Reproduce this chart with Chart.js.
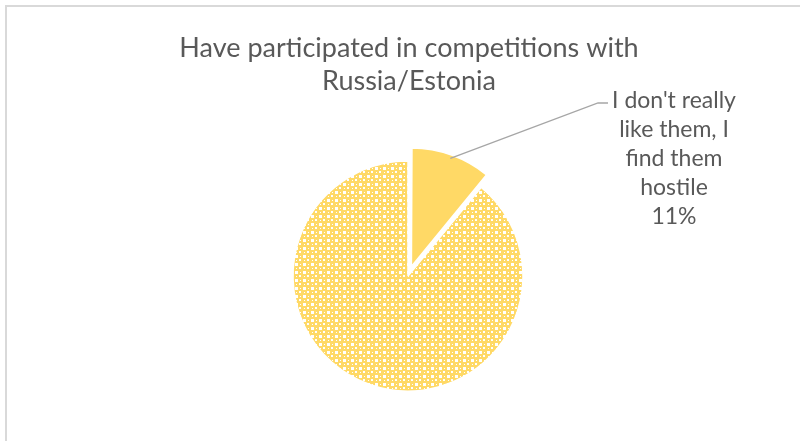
<!DOCTYPE html>
<html>
<head>
<meta charset="utf-8">
<script src="https://cdn.jsdelivr.net/npm/chart.js@4"></script>
<style>
  html, body { margin: 0; padding: 0; background: #fff; }
  #wrap { position: relative; width: 800px; height: 441px; overflow: hidden; }
  #frame { position: absolute; left: 5px; top: 5px; width: 900px; height: 600px; border: 2px solid #d9d9d9; box-sizing: border-box; }
  #chart { position: absolute; left: 0; top: 0; }
</style>
</head>
<body>
<div id="wrap">
  <div id="frame"></div>
  <canvas id="chart" width="800" height="441"></canvas>
</div>
<script>
const titleLines = ['Have participated in competitions with', 'Russia/Estonia'];
const categories = ["I don't really like them, I find them hostile", 'Other'];
const labelLines = ["I don't really", 'like them, I', 'find them', 'hostile'];
const values = [11, 89];

const FONT = 'Lato, "Open Sans", sans-serif';
const TEXT = '#595959';
const GOLD = '#FFD966';

// 8px tile: gold lattice with white square holes, used for the big slice
function makePattern() {
    const c = document.createElement('canvas');
    c.width = 8; c.height = 8;
    const g = c.getContext('2d');
    g.fillStyle = GOLD;
    g.fillRect(0, 0, 8, 8);
    g.fillStyle = '#ffffff';
    g.fillRect(0, 0, 2, 2);
    g.fillRect(7, 0, 1, 2);
    g.fillRect(0, 7, 2, 1);
    g.fillRect(7, 7, 1, 1);
    g.fillRect(3, 3, 2, 2);
    g.fillRect(4, 0, 1, 1);
    g.fillRect(0, 4, 1, 1);
    return g.createPattern(c, 'repeat');
}

const drawText = {
    id: 'drawText',
    afterDraw(chart) {
        const ctx = chart.ctx;
        ctx.save();
        ctx.fillStyle = TEXT;
        ctx.textAlign = 'center';
        ctx.textBaseline = 'middle';
        ctx.font = '27px ' + FONT;
        titleLines.forEach((t, i) => ctx.fillText(t, 409, 48 + i * 33));

        // leader line from the middle of the first slice's rim
        const arc = chart.getDatasetMeta(0).data[0];
        const mid = (arc.startAngle + arc.endAngle) / 2;
        const shift = 40 / 4;
        const r = arc.outerRadius;
        const sx = arc.x + Math.cos(mid) * (r + shift);
        const sy = arc.y + Math.sin(mid) * (r + shift);
        ctx.strokeStyle = '#a6a6a6';
        ctx.lineWidth = 1.3;
        ctx.beginPath();
        ctx.moveTo(sx, sy);
        ctx.lineTo(598, 103);
        ctx.lineTo(608, 103);
        ctx.stroke();

        ctx.font = '23px ' + FONT;
        const lines = labelLines.concat([values[0] + '%']);
        lines.forEach((t, i) => ctx.fillText(t, 674, 101 + i * 29));
        ctx.restore();
    }
};

new Chart(document.getElementById('chart'), {
    type: 'pie',
    data: {
        labels: categories,
        datasets: [{
            data: values,
            backgroundColor: [GOLD, makePattern()],
            borderColor: '#ffffff',
            borderWidth: 1.5,
            offset: [40, 0]
        }]
    },
    options: {
        responsive: false,
        animation: false,
        events: [],
        radius: 115,
        layout: { padding: { top: 121, bottom: 10, left: 216, right: 200 } },
        plugins: {
            legend: { display: false },
            tooltip: { enabled: false },
            title: { display: false }
        }
    },
    plugins: [drawText]
});
</script>
</body>
</html>
